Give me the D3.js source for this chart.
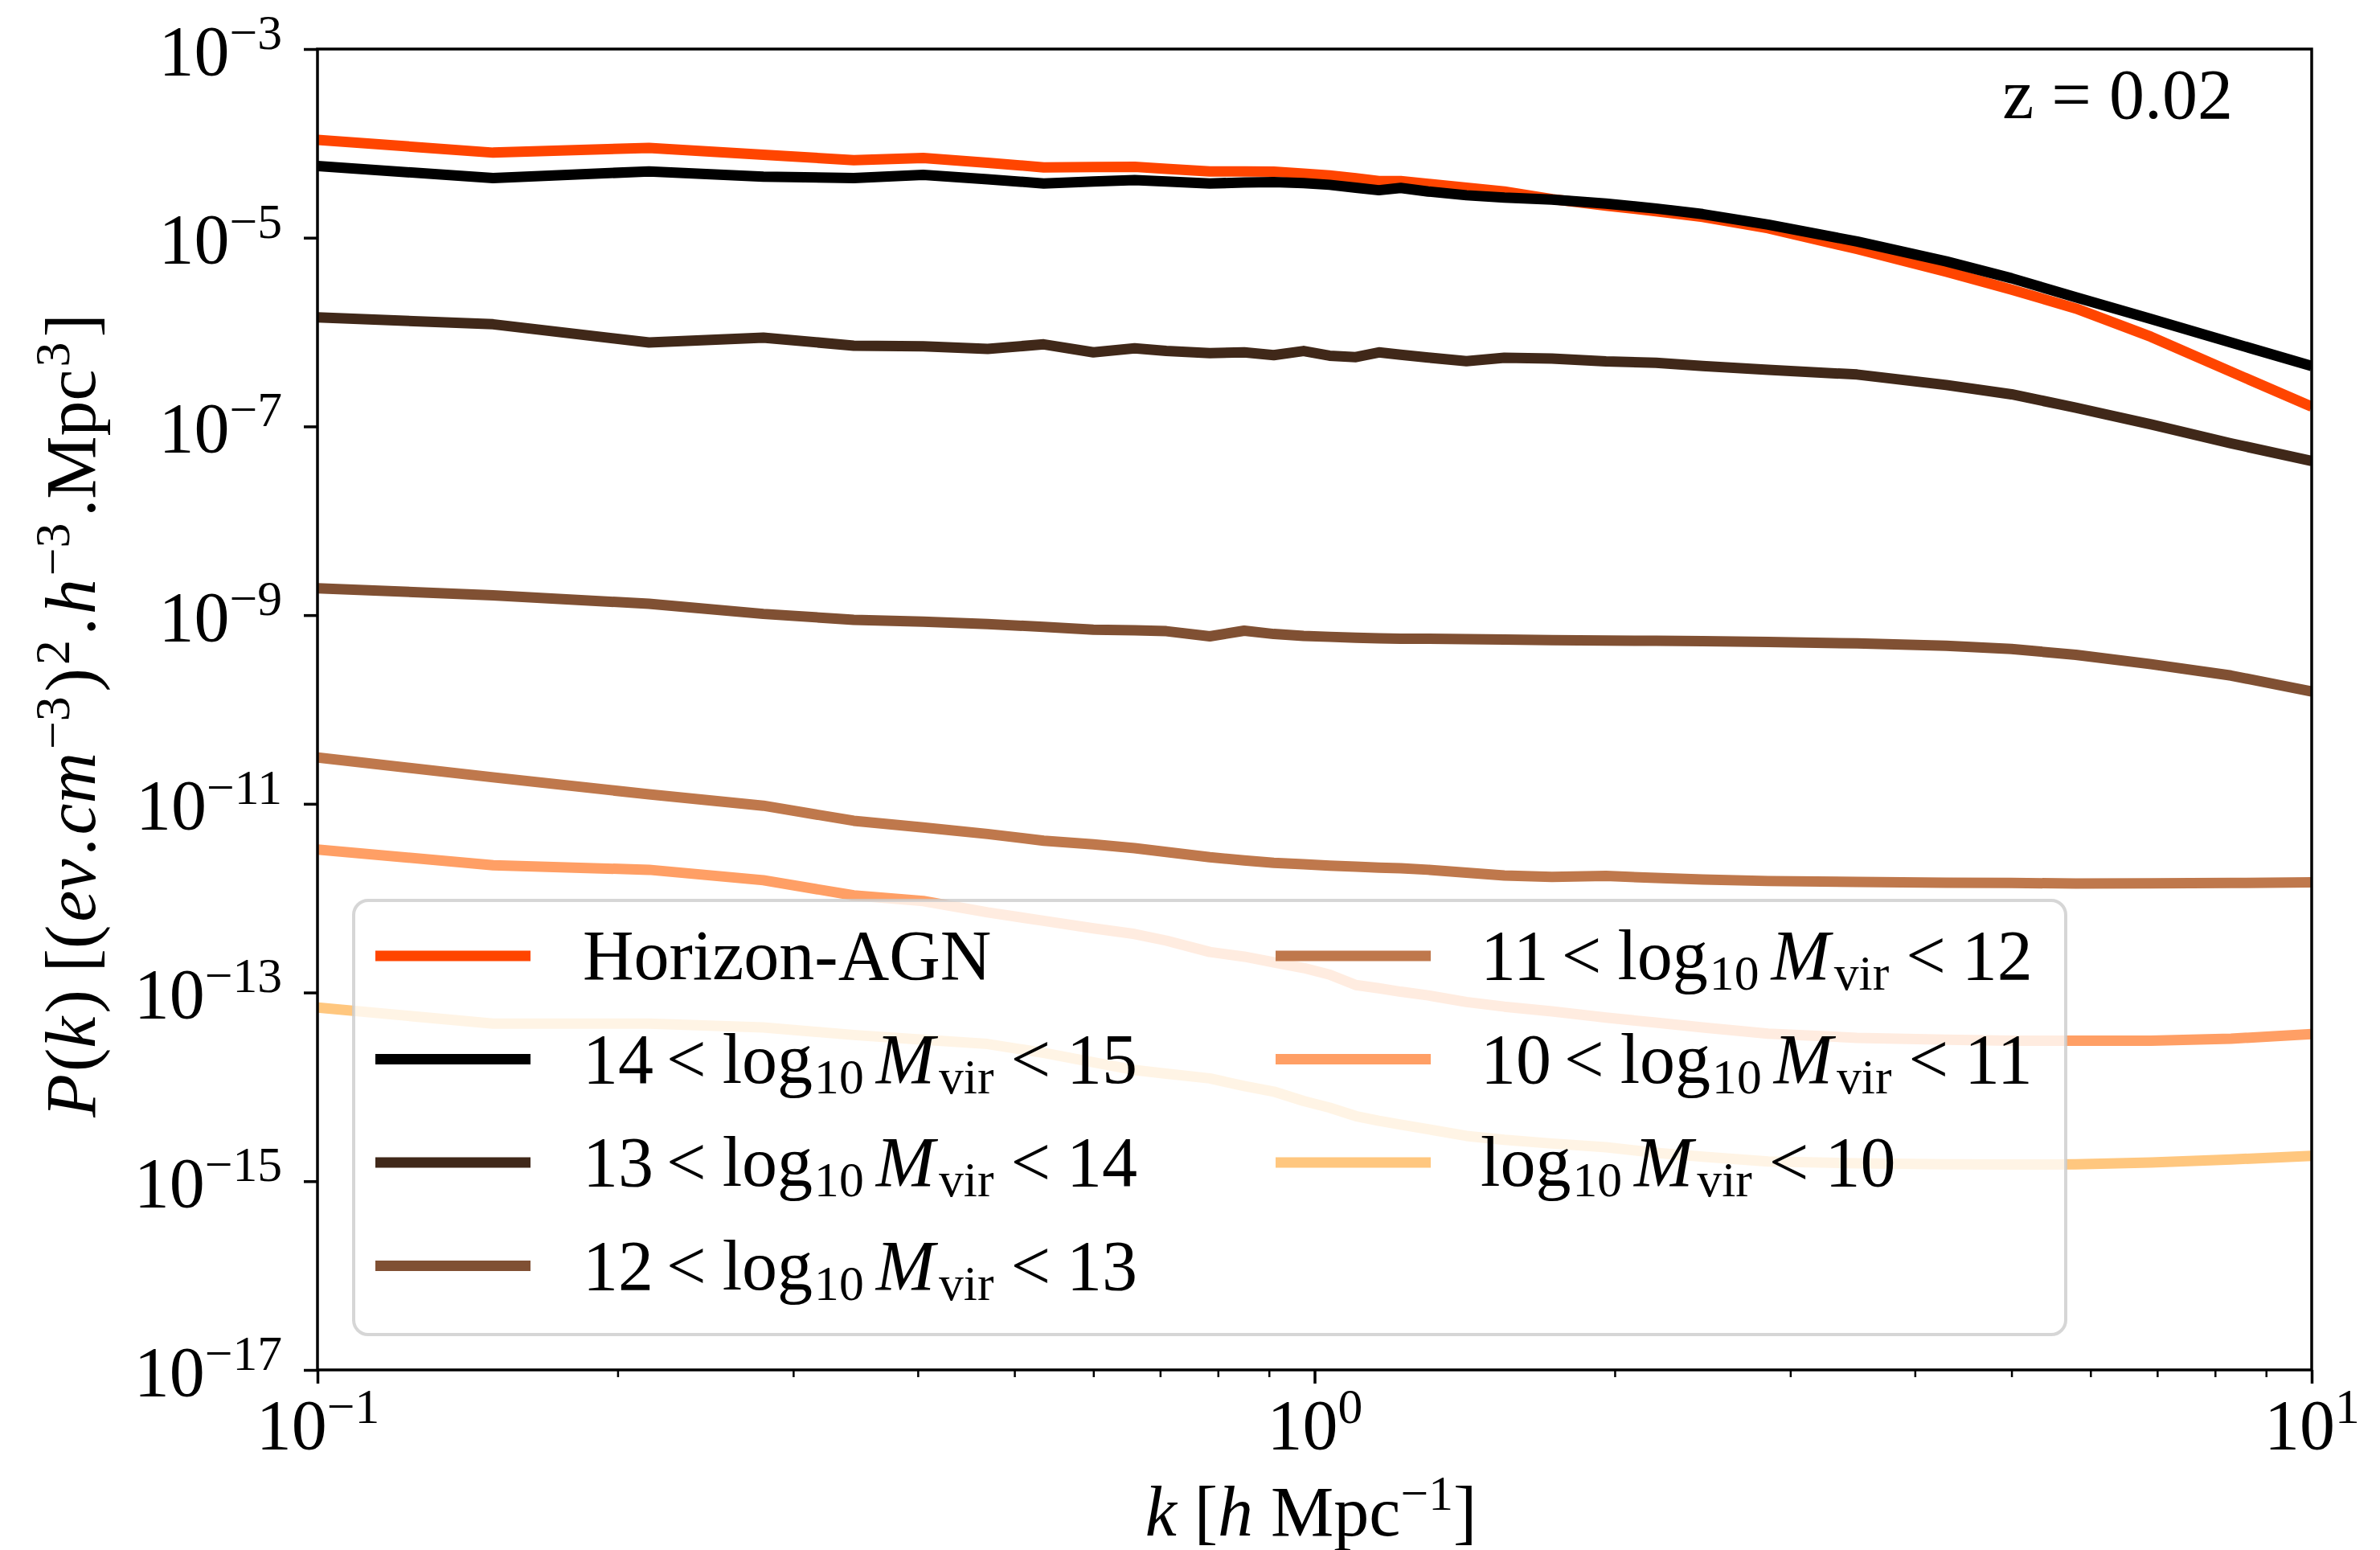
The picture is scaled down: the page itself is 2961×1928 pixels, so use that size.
<!DOCTYPE html>
<html lang="en">
<head>
<meta charset="UTF-8">
<title>P(k) per halo mass bin, z = 0.02</title>
<script src="https://d3js.org/d3.v7.min.js"></script>
<style>
  body { margin: 0; background: #fff; }
  svg text { font-family: "Liberation Serif", "Times New Roman", serif; fill: #000; }
  .series { fill: none; stroke-width: 13; stroke-linejoin: round; }
</style>
</head>
<body>
<svg width="2961" height="1928"></svg>
<script>
// k [h/Mpc] sample points
const kValues = [0.1, 0.15, 0.215, 0.28, 0.345, 0.405, 0.47, 0.535, 0.6, 0.66,
  0.71, 0.785, 0.85, 0.91, 0.975, 1.035, 1.1, 1.16, 1.22, 1.3,
  1.42, 1.55, 1.73, 1.96, 2.2, 2.45, 2.85, 3.5, 4.3, 5.0,
  5.8, 6.9, 8.3, 10];

// P(k) for each curve
const pHorizon = [1.09e-4, 7.98e-5, 8.97e-5, 7.57e-5, 6.64e-5, 7.00e-5, 6.24e-5, 5.57e-5, 5.62e-5, 5.64e-5,
  5.37e-5, 5.05e-5, 5.05e-5, 5.01e-5, 4.79e-5, 4.57e-5, 4.27e-5, 3.98e-5, 3.98e-5, 3.72e-5,
  3.39e-5, 3.09e-5, 2.57e-5, 2.19e-5, 1.91e-5, 1.66e-5, 1.26e-5, 7.59e-6, 4.37e-6, 2.82e-6,
  1.78e-6, 8.91e-7, 3.80e-7, 1.62e-7];
const pM14 = [5.75e-5, 4.29e-5, 5.05e-5, 4.43e-5, 4.29e-5, 4.63e-5, 4.17e-5, 3.76e-5, 3.94e-5, 4.09e-5,
  3.94e-5, 3.76e-5, 3.85e-5, 3.88e-5, 3.80e-5, 3.64e-5, 3.39e-5, 3.19e-5, 3.37e-5, 3.09e-5,
  2.82e-5, 2.66e-5, 2.54e-5, 2.30e-5, 2.04e-5, 1.78e-5, 1.38e-5, 9.12e-6, 5.62e-6, 3.72e-6,
  2.34e-6, 1.38e-6, 7.76e-7, 4.37e-7];
const pM13 = [1.43e-6, 1.21e-6, 7.76e-7, 8.73e-7, 7.18e-7, 7.08e-7, 6.64e-7, 7.41e-7, 6.10e-7, 6.73e-7,
  6.31e-7, 5.98e-7, 6.10e-7, 5.70e-7, 6.30e-7, 5.62e-7, 5.43e-7, 6.10e-7, 5.75e-7, 5.37e-7,
  4.91e-7, 5.35e-7, 5.25e-7, 4.90e-7, 4.73e-7, 4.37e-7, 3.98e-7, 3.55e-7, 2.75e-7, 2.19e-7,
  1.58e-7, 1.05e-7, 6.61e-8, 4.31e-8];
const pM12 = [1.93e-9, 1.62e-9, 1.32e-9, 1.03e-9, 8.93e-10, 8.51e-10, 8.05e-10, 7.50e-10, 7.00e-10, 6.92e-10,
  6.76e-10, 5.96e-10, 6.84e-10, 6.31e-10, 6.03e-10, 5.89e-10, 5.75e-10, 5.69e-10, 5.62e-10, 5.62e-10,
  5.56e-10, 5.50e-10, 5.43e-10, 5.37e-10, 5.35e-10, 5.30e-10, 5.19e-10, 5.01e-10, 4.73e-10, 4.37e-10,
  3.80e-10, 3.02e-10, 2.29e-10, 1.55e-10];
const pM11 = [3.10e-11, 1.91e-11, 1.26e-11, 9.55e-12, 6.61e-12, 5.62e-12, 4.79e-12, 4.07e-12, 3.72e-12, 3.39e-12,
  3.09e-12, 2.72e-12, 2.51e-12, 2.37e-12, 2.29e-12, 2.21e-12, 2.16e-12, 2.11e-12, 2.08e-12, 2.00e-12,
  1.86e-12, 1.74e-12, 1.68e-12, 1.72e-12, 1.64e-12, 1.58e-12, 1.52e-12, 1.49e-12, 1.46e-12, 1.45e-12,
  1.43e-12, 1.44e-12, 1.45e-12, 1.47e-12];
const pM10 = [3.28e-12, 2.23e-12, 2.00e-12, 1.55e-12, 1.07e-12, 9.33e-13, 7.08e-13, 5.75e-13, 4.79e-13, 4.17e-13,
  3.55e-13, 2.69e-13, 2.40e-13, 2.09e-13, 1.82e-13, 1.55e-13, 1.20e-13, 1.11e-13, 1.02e-13, 9.33e-14,
  7.94e-14, 7.08e-14, 6.31e-14, 5.43e-14, 4.79e-14, 4.27e-14, 3.67e-14, 3.31e-14, 3.16e-14, 3.09e-14,
  3.08e-14, 3.09e-14, 3.24e-14, 3.63e-14];
const pBelow10 = [6.92e-14, 4.68e-14, 4.68e-14, 4.27e-14, 3.55e-14, 3.16e-14, 2.85e-14, 2.29e-14, 1.82e-14, 1.51e-14,
  1.38e-14, 1.23e-14, 1.02e-14, 8.91e-15, 7.08e-15, 6.03e-15, 4.90e-15, 4.37e-15, 3.98e-15, 3.55e-15,
  3.02e-15, 2.75e-15, 2.51e-15, 2.29e-15, 2.00e-15, 1.82e-15, 1.62e-15, 1.55e-15, 1.51e-15, 1.50e-15,
  1.51e-15, 1.58e-15, 1.70e-15, 1.86e-15];

// legend: null = plain name, [lo, hi] = mass bin (lo null means no lower bound)
const seriesNames = ["Horizon-AGN", "14-15", "13-14", "12-13", "11-12", "10-11", "<10"];
const massBins = [null, [14, 15], [13, 14], [12, 13], [11, 12], [10, 11], [null, 10]];
const seriesValues = [pHorizon, pM14, pM13, pM12, pM11, pM10, pBelow10];
const seriesColors = ["#ff4500", "#000000", "#402819", "#805033", "#bf784c", "#ff9f65", "#ffc77f"];

const yTickValues = [1e-3, 1e-5, 1e-7, 1e-9, 1e-11, 1e-13, 1e-15, 1e-17];
const xTickValues = [0.1, 1, 10];
const xMinorTicks = [0.2, 0.3, 0.4, 0.5, 0.6, 0.7, 0.8, 0.9, 2, 3, 4, 5, 6, 7, 8, 9];

const width = 2961, height = 1928;
const margin = { top: 61, right: 85, bottom: 224, left: 395 };
const fs = 88;

const svg = d3.select("svg");

const x = d3.scaleLog().domain([0.1, 10]).range([margin.left, width - margin.right]);
const y = d3.scaleLog().domain([1e-17, 1e-3]).range([height - margin.bottom, margin.top]);

// mathtext-like text: parts with italic / superscript / subscript
function richText(sel, parts, size) {
  let shift = 0;
  parts.forEach(p => {
    const target = p.sup ? -0.36 * size : (p.sub ? 0.15 * size : 0);
    const ts = sel.append("tspan")
      .text(p.t)
      .attr("font-size", (p.sup || p.sub) ? size * 0.7 : size)
      .attr("font-style", p.it ? "italic" : "normal");
    if (target - shift) ts.attr("dy", target - shift);
    if (p.dx) ts.attr("dx", p.dx);
    shift = target;
  });
}

function powerLabel(d) {
  const e = Math.round(Math.log10(d));
  return [{ t: "10" }, { t: (e < 0 ? "\u2212" : "") + Math.abs(e), sup: true }];
}

svg.append("clipPath").attr("id", "plot-clip")
  .append("rect")
  .attr("x", margin.left).attr("y", margin.top)
  .attr("width", width - margin.left - margin.right)
  .attr("height", height - margin.top - margin.bottom);

// curves
const line = d3.line()
  .x((d, i) => x(kValues[i]))
  .y(d => y(d));

svg.append("g").attr("clip-path", "url(#plot-clip)")
  .selectAll("path")
  .data(seriesValues)
  .join("path")
  .attr("class", "series")
  .attr("stroke", (d, i) => seriesColors[i])
  .attr("d", line);

// axes
const xMinor = svg.append("g")
  .attr("transform", `translate(0,${height - margin.bottom})`)
  .call(d3.axisBottom(x).tickValues(xMinorTicks).tickSize(9).tickSizeOuter(0).tickFormat(""));
xMinor.select(".domain").remove();
xMinor.selectAll("line").attr("stroke-width", 2.5);

const xAxis = svg.append("g")
  .attr("transform", `translate(0,${height - margin.bottom})`)
  .call(d3.axisBottom(x).tickValues(xTickValues).tickSize(17).tickSizeOuter(0));
xAxis.select(".domain").remove();
xAxis.selectAll("line").attr("stroke-width", 3.5);
xAxis.selectAll("text")
  .attr("y", 98).attr("dy", null)
  .attr("text-anchor", "middle")
  .each(function (d) {
    const t = d3.select(this).text(null);
    richText(t, powerLabel(d), fs);
  });

const yAxis = svg.append("g")
  .attr("transform", `translate(${margin.left},0)`)
  .call(d3.axisLeft(y).tickValues(yTickValues).tickSize(17).tickSizeOuter(0));
yAxis.select(".domain").remove();
yAxis.selectAll("line").attr("stroke-width", 3.5);
yAxis.selectAll("text")
  .attr("x", -44).attr("y", 31).attr("dy", null)
  .attr("text-anchor", "end")
  .each(function (d) {
    const t = d3.select(this).text(null);
    richText(t, powerLabel(d), fs);
  });

svg.selectAll("g").filter(function () { return this.hasAttribute("font-family"); })
  .attr("font-family", null).attr("font-size", null);

// frame
svg.append("rect")
  .attr("x", margin.left).attr("y", margin.top)
  .attr("width", width - margin.left - margin.right)
  .attr("height", height - margin.top - margin.bottom)
  .attr("fill", "none").attr("stroke", "#000").attr("stroke-width", 3.5);

// axis labels
const xLabel = svg.append("text")
  .attr("x", 1631).attr("y", 1910).attr("text-anchor", "middle");
richText(xLabel, [{ t: "k", it: true }, { t: " [" }, { t: "h", it: true }, { t: " Mpc" },
  { t: "\u22121", sup: true }, { t: "]" }], fs);

const yLabel = svg.append("text")
  .attr("transform", "translate(118,890) rotate(-90)")
  .attr("text-anchor", "middle");
richText(yLabel, [{ t: "P", it: true }, { t: "(", dx: 3 }, { t: "k", it: true }, { t: ") [(", dx: 4 },
  { t: "ev", it: true, dx: 4 }, { t: ".", dx: 4 }, { t: "cm", it: true, dx: 4 }, { t: "\u22123", sup: true, dx: 4 },
  { t: ")", dx: 6 }, { t: "2", sup: true, dx: 4 }, { t: ".", dx: 6 }, { t: "h", it: true, dx: 4 },
  { t: "\u22123", sup: true, dx: 4 }, { t: ".Mpc", dx: 8 }, { t: "3", sup: true, dx: 3 }, { t: "]", dx: 6 }], fs);

// redshift note
svg.append("text")
  .attr("x", 2778).attr("y", 147).attr("text-anchor", "end")
  .attr("font-size", fs)
  .text("z = 0.02");

// legend
const legend = svg.append("g");
legend.append("rect")
  .attr("x", 440).attr("y", 1120).attr("width", 2130).attr("height", 540)
  .attr("rx", 18).attr("ry", 18)
  .attr("fill", "#fff").attr("fill-opacity", 0.8)
  .attr("stroke", "#ccc").attr("stroke-opacity", 0.8).attr("stroke-width", 4);

function massParts(bin) {
  const parts = [];
  if (bin[0] != null) parts.push({ t: String(bin[0]) }, { t: "<", dx: 16 });
  parts.push({ t: "log", dx: bin[0] != null ? 20 : 0 }, { t: "10", sub: true, dx: 2 },
    { t: "M", it: true, dx: 15 }, { t: "vir", sub: true, dx: 5 },
    { t: "<", dx: 21 }, { t: String(bin[1]), dx: 20 });
  return parts;
}

const colX = [467, 1587];
const textX = [725, 1842];
seriesNames.forEach((name, i) => {
  const col = i < 4 ? 0 : 1;
  const row = i < 4 ? i : i - 4;
  const cy = 1189 + row * 128.5;
  legend.append("line")
    .attr("x1", colX[col]).attr("x2", colX[col] + 193)
    .attr("y1", cy).attr("y2", cy)
    .attr("stroke", seriesColors[i]).attr("stroke-width", 13);
  const t = legend.append("text").attr("x", textX[col]).attr("y", cy + 29);
  if (massBins[i]) richText(t, massParts(massBins[i]), fs);
  else t.attr("font-size", fs).text(name);
});
</script>
</body>
</html>
